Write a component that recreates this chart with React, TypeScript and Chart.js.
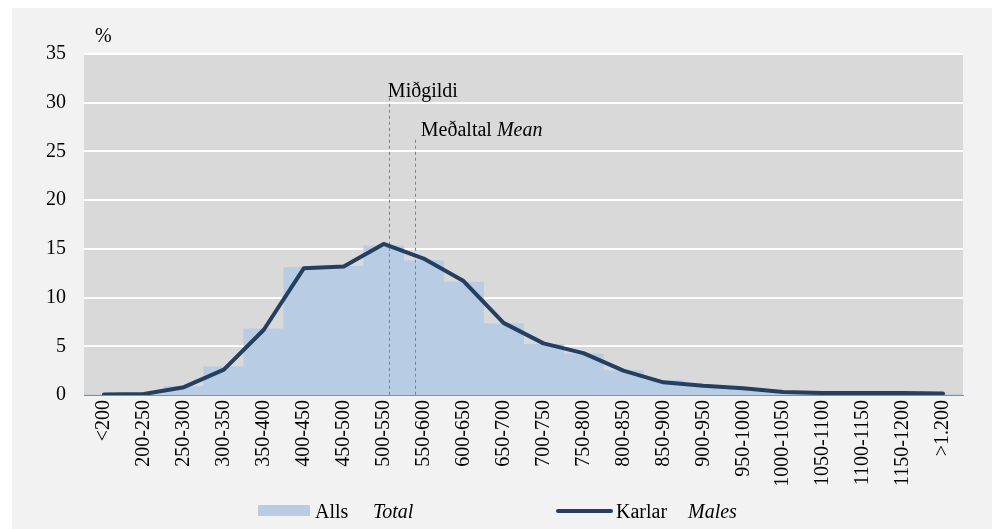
import React, { useEffect, useRef } from "react";
import { Chart, registerables } from "chart.js";

Chart.register(...registerables);

const categories = [
  "<200", "200-250", "250-300", "300-350", "350-400", "400-450", "450-500",
  "500-550", "550-600", "600-650", "650-700", "700-750", "750-800", "800-850",
  "850-900", "900-950", "950-1000", "1000-1050", "1050-1100", "1100-1150",
  "1150-1200", ">1.200",
];
const totalValues = [0.05, 0.1, 0.9, 2.9, 6.8, 13.1, 13.2, 15.3, 13.8, 11.6, 7.3, 5.2, 4.2, 2.5, 1.5, 1.0, 0.6, 0.3, 0.2, 0.2, 0.2, 0.1];
const malesValues = [0.05, 0.1, 0.8, 2.6, 6.7, 13.0, 13.2, 15.5, 14.0, 11.7, 7.4, 5.3, 4.3, 2.5, 1.3, 0.95, 0.7, 0.3, 0.2, 0.2, 0.2, 0.15];
const yTicks = [0, 5, 10, 15, 20, 25, 30, 35];
// category positions (index units) and top values of the reference lines
const medianPos = 7.13;
const medianTop = 30.5;
const meanPos = 7.78;
const meanTop = 26.2;

const FONT = '"Liberation Serif", "Times New Roman", serif';

export default function App() {
  const ref = useRef<HTMLCanvasElement | null>(null);
  useEffect(() => {
    if (!ref.current) return;
    const overlay = {
      id: "overlay",
      beforeDraw(chart: any) {
        const { ctx, chartArea: a } = chart;
        ctx.save();
        ctx.fillStyle = "#d9d9d9";
        ctx.fillRect(a.left, a.top, a.right - a.left, a.bottom - a.top);
        ctx.restore();
      },
      afterDatasetDraw(chart: any, args: any) {
        if (args.index !== 1) return;
        const { ctx, scales } = chart;
        const x = scales.x;
        const y = scales.y;
        const step = x.getPixelForValue(1) - x.getPixelForValue(0);
        const px = (p: number) => x.getPixelForValue(0) + p * step;
        ctx.save();
        ctx.strokeStyle = "#808080";
        ctx.lineWidth = 1;
        ctx.setLineDash([3, 3]);
        [[medianPos, medianTop], [meanPos, meanTop]].forEach(([p, t]) => {
          const xx = Math.round(px(p)) + 0.5;
          ctx.beginPath();
          ctx.moveTo(xx, y.getPixelForValue(t));
          ctx.lineTo(xx, y.getPixelForValue(0));
          ctx.stroke();
        });
        ctx.restore();
      },
      afterDraw(chart: any) {
        const { ctx, scales, chartArea: a } = chart;
        const x = scales.x;
        const y = scales.y;
        const step = x.getPixelForValue(1) - x.getPixelForValue(0);
        const px = (p: number) => x.getPixelForValue(0) + p * step;
        ctx.save();
        ctx.fillStyle = "#000";
        ctx.textBaseline = "alphabetic";
        ctx.textAlign = "left";
        ctx.font = `20px ${FONT}`;
        // % label
        ctx.fillText("%", a.left + 11, a.top - 12);
        // median label
        ctx.fillText("Miðgildi", px(medianPos) - 1, y.getPixelForValue(medianTop) - 1);
        // mean label
        const mx = px(meanPos) + 6;
        const my = y.getPixelForValue(meanTop) - 4;
        ctx.fillText("Meðaltal ", mx, my);
        const w1 = ctx.measureText("Meðaltal ").width;
        ctx.font = `italic 20px ${FONT}`;
        ctx.fillText("Mean", mx + w1, my);
        // legend
        const ly = chart.height - 13;
        ctx.fillStyle = "#b8cce4";
        ctx.fillRect(246, ly - 11, 52, 11);
        ctx.fillStyle = "#000";
        ctx.font = `20px ${FONT}`;
        ctx.fillText("Alls", 303, ly + 2);
        ctx.font = `italic 20px ${FONT}`;
        ctx.fillText("Total", 361, ly + 2);
        ctx.strokeStyle = "#243f60";
        ctx.lineWidth = 4;
        ctx.lineCap = "round";
        ctx.beginPath();
        ctx.moveTo(546, ly - 5);
        ctx.lineTo(599, ly - 5);
        ctx.stroke();
        ctx.font = `20px ${FONT}`;
        ctx.fillText("Karlar", 604, ly + 2);
        ctx.font = `italic 20px ${FONT}`;
        ctx.fillText("Males", 676, ly + 2);
        ctx.restore();
      },
    };

    const chart = new Chart(ref.current, {
      type: "bar",
      data: {
        labels: categories,
        datasets: [
          {
            type: "line",
            label: "Karlar Males",
            data: malesValues,
            borderColor: "#243f60",
            backgroundColor: "#243f60",
            borderWidth: 4,
            pointRadius: 0,
            tension: 0,
            borderCapStyle: "round",
            borderJoinStyle: "round",
            order: 0,
          } as any,
          {
            type: "bar",
            label: "Alls Total",
            data: totalValues,
            backgroundColor: "#b8cce4",
            borderWidth: 0,
            barPercentage: 1,
            categoryPercentage: 1,
            order: 1,
          } as any,
        ],
      },
      options: {
        animation: false,
        responsive: false,
        maintainAspectRatio: false,
        layout: { padding: { top: 46, right: 30, left: 0, bottom: 0 } },
        plugins: {
          legend: { display: false },
          tooltip: { enabled: false },
        },
        scales: {
          x: {
            grid: { display: false, drawTicks: false },
            border: { display: true, color: "#8c8c8c", width: 1 },
            ticks: {
              autoSkip: false,
              minRotation: 90,
              maxRotation: 90,
              padding: 5,
              color: "#000",
              font: { family: FONT, size: 20 },
            },
            afterFit(scale: any) {
              scale.height = 134;
            },
          },
          y: {
            min: 0,
            max: 35,
            afterBuildTicks(scale: any) {
              scale.ticks = yTicks.map((v) => ({ value: v }));
            },
            grid: {
              drawTicks: false,
              color: (c: any) => (c.tick && c.tick.value === 0 ? "#8c8c8c" : "#ffffff"),
              lineWidth: (c: any) => (c.tick && c.tick.value === 0 ? 1 : 2),
            },
            border: { display: false },
            ticks: {
              padding: 18,
              color: "#000",
              font: { family: FONT, size: 20 },
            },
            afterFit(scale: any) {
              scale.width = 72;
            },
          },
        },
      },
      plugins: [overlay],
    });
    return () => chart.destroy();
  }, []);

  return (
    <div style={{ marginLeft: 4, width: 981, height: 521, background: "#f2f2f2" }}>
      <canvas ref={ref} width={981} height={521} style={{ display: "block" }} />
    </div>
  );
}
